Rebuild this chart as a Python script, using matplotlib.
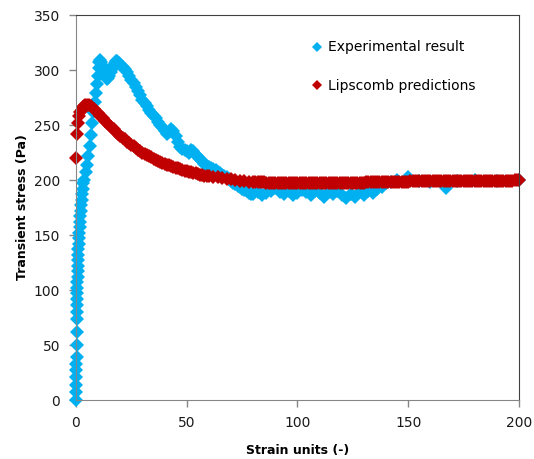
import matplotlib
matplotlib.use("Agg")
import matplotlib.pyplot as plt

# ==========================
# Data
# ==========================

# Experimental result (blue diamonds)
exp_strain = [
    0.0, 0.1, 0.1, 0.2, 0.2, 0.2, 0.3, 0.3, 0.3, 0.4, 0.4, 0.4, 0.5, 0.5,
    0.6, 0.6, 0.7, 0.8, 0.8, 0.9, 1.0, 1.1, 1.2, 1.3, 1.4, 1.6, 1.8, 2.0,
    2.2, 2.4, 2.6, 2.8, 3.0, 3.3, 3.6, 4.3, 5.0, 5.6, 6.2, 6.8, 7.4, 7.9,
    8.4, 8.9, 9.4, 9.8, 10.2, 10.6, 11.0, 11.5, 12.0, 12.5, 13.0, 13.5,
    14.0, 14.5, 15.0, 15.6, 16.2, 16.8, 17.4, 18.0, 18.6, 19.2,
    20, 21, 22, 23, 24, 25, 26, 27, 28, 29, 30, 31, 32, 33, 34, 35, 36,
    37, 38, 39, 40, 41, 42, 43, 44, 45, 46, 47, 48, 49, 50, 51, 52, 53,
    54, 55, 56, 57, 58, 59, 60, 61, 62, 63, 64, 65, 66, 67, 68, 69, 70,
    71, 72, 73, 74, 75, 76, 77, 78, 79,
    80, 82, 84, 86, 88, 90, 92, 94, 96, 98, 100, 102, 104, 106, 108, 110,
    112, 114, 116, 118, 120, 122, 124, 126, 128, 130, 132, 134, 136, 138,
    140, 142, 145, 150, 155, 160, 167, 172, 180, 190, 200,
]
exp_stress = [
    0, 7, 14, 21, 27, 33, 39, 50, 62, 74, 80, 86, 92, 97,
    102, 107, 112, 117, 122, 127, 132, 137, 142, 147, 152, 157, 162, 167,
    172, 177, 182, 187, 192, 197, 200, 207, 214, 222, 231, 241, 252, 262,
    271, 279, 287, 295, 302, 307, 309, 307, 304, 300, 297, 294,
    292, 293, 295, 298, 301, 304, 306, 308, 308, 306,
    305, 303, 301, 298, 295, 291, 288, 285, 281, 277, 273, 270, 267, 264,
    261, 258, 256, 253, 250, 248, 245, 242, 244, 246, 245, 240, 235, 230,
    228, 227, 226, 225, 227, 226, 223, 221, 219, 217, 215, 213, 212, 211,
    210, 209, 207, 206, 205, 204, 203, 201, 199, 197, 196, 195, 194, 192,
    191, 190, 188, 187,
    187, 189, 186, 188, 190, 193, 189, 187, 190, 186, 188, 191, 189, 186,
    190, 188, 185, 189, 187, 190, 186, 184, 187, 185, 189, 186, 190, 188,
    192, 194, 197, 198, 200, 203, 199, 198, 193, 199, 200, 199, 200,
]

# Lipscomb predictions (red diamonds)
lip_strain = [
    0, 0.5, 1, 1.5, 2, 2.5, 3, 3.5, 4,
    5, 6, 7, 8, 9, 10, 11, 12, 13, 14, 15, 16, 17, 18, 19, 20, 21, 22,
    23, 24, 25, 26, 27, 28, 29, 30, 31, 32, 33, 34, 35, 36, 37, 38, 39, 40,
    41, 42, 43, 44, 45, 46, 47, 48, 49, 50, 51, 52, 53, 54, 55, 56, 57, 58,
    59, 60, 62, 64, 66, 68, 70, 72, 74, 76, 78, 80,
    81, 82, 83, 84, 85,
    86, 87, 88, 89, 90, 91, 92, 93,
    94, 95, 96, 97, 98, 99, 100, 101, 102, 103, 104, 105, 106, 107, 108,
    109, 110, 111, 112, 113, 114, 115, 116, 117, 118, 119, 120, 121, 122,
    123, 124, 125, 126, 127, 128, 129, 130,
    131, 132, 133, 134, 135, 136, 137, 138, 139, 140, 141, 142, 143, 144,
    145, 146, 147, 148, 149, 150,
    151, 152, 153, 154, 155, 156, 157, 158, 159, 160, 161, 162, 163, 164,
    165, 166, 167, 168, 169, 170, 171, 172, 173, 174, 175, 176, 177, 178,
    179, 180, 181, 182, 183, 184, 185, 186, 187, 188, 189, 190, 191, 192,
    193, 194, 195, 196, 197,
    198, 199, 200,
]
lip_stress = [
    220, 242, 252, 258, 262, 264, 266, 267, 268,
    268.5, 268, 267, 265, 263, 261, 258.5, 256, 254, 252, 250, 248, 246,
    244, 242, 240, 238.5, 237, 235, 233.5, 232, 230.5, 229, 227.5, 226,
    225, 223.5, 222.5, 221.5, 220.5, 219.5, 218.5, 217.5, 216.5, 215.5, 215,
    214, 213.5, 212.5, 212, 211, 210.5, 210, 209, 208.5, 208, 207.5, 207,
    206.5, 206, 205.5, 205, 204.5, 204, 203.5, 203.5,
    203, 202.5, 202, 201, 200.5, 200, 199.5, 199, 198.5, 198.5,
    198, 198, 198, 198, 198,
    197.5, 197.5, 197.5, 197.5, 197.5, 197.5, 197.5, 197.5,
    197, 197, 197, 197, 197, 197, 197, 197, 197, 197, 197, 197, 197, 197,
    197, 197, 197, 197, 197, 197, 197, 197, 197, 197, 197, 197, 197, 197,
    197, 197, 197, 197, 197, 197, 197, 197, 197,
    198.5, 198.5, 198.5, 198.5, 198.5, 198.5, 198.5, 198.5, 198.5, 198.5,
    198.5, 198.5, 198.5, 198.5, 198.5, 198.5, 198.5, 198.5, 198.5, 198.5,
    199.5, 199.5, 199.5, 199.5, 199.5, 199.5, 199.5, 199.5, 199.5, 199.5,
    199.5, 199.5, 199.5, 199.5, 199.5, 199.5, 199.5, 199.5, 199.5, 199.5,
    199.5, 199.5, 199.5, 199.5, 199.5, 199.5, 199.5, 199.5, 199.5, 199.5,
    199.5, 199.5, 199.5, 199.5, 199.5, 199.5, 199.5, 199.5, 199.5, 199.5,
    199.5, 199.5, 199.5, 199.5, 199.5, 199.5, 199.5,
    200, 200, 200,
]

x_ticks = [0, 50, 100, 150, 200]
y_ticks = [0, 50, 100, 150, 200, 250, 300, 350]

BLUE = "#00B0F0"
RED = "#C00000"
GRID_GREY = "#868686"

# ==========================
# Plot
# ==========================

fig = plt.figure(figsize=(5.34, 4.59), dpi=100)
ax = fig.add_axes([0.1423, 0.1285, 0.8296, 0.8388])

ax.plot(exp_strain, exp_stress, linestyle="none", marker="D", markersize=7,
        color=BLUE, markeredgewidth=0, clip_on=False,
        label="Experimental result")
ax.plot(lip_strain, lip_stress, linestyle="none", marker="D", markersize=7.3,
        color=RED, markeredgewidth=0, clip_on=False,
        label="Lipscomb predictions")

ax.set_xlim(0, 200)
ax.set_ylim(0, 350)
ax.set_xticks(x_ticks)
ax.set_yticks(y_ticks)
ax.tick_params(direction="out", length=5, width=1, color=GRID_GREY,
               labelsize=10, pad=6.5, labelcolor="#1a1a1a")

for side in ["left", "bottom"]:
    ax.spines[side].set_color(GRID_GREY)
for side in ["top", "right"]:
    ax.spines[side].set_color("#404040")

ax.set_xlabel("Strain units (-)", fontsize=9, fontweight="bold")
ax.set_ylabel("Transient stress (Pa)", fontsize=9, fontweight="bold")
ax.xaxis.set_label_coords(0.5, -0.115)
ax.yaxis.set_label_coords(-0.107, 0.5)

ax.legend(loc="upper left", bbox_to_anchor=(0.585, 0.912),
          bbox_transform=fig.transFigure, frameon=False, fontsize=10,
          labelspacing=1.75, handlelength=0.6, handletextpad=0.55,
          borderpad=0, borderaxespad=0, markerscale=0.72)

fig.savefig("out.png", dpi=100)
